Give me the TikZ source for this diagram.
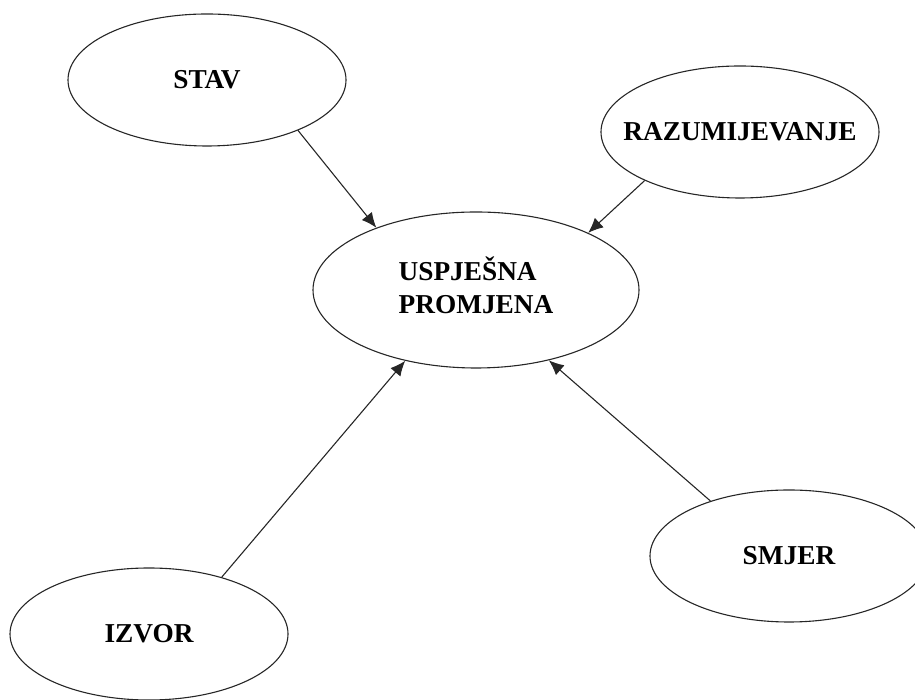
\documentclass[tikz,border=0pt]{standalone}
\usepackage{fontspec}
\setmainfont{Liberation Serif}
\usetikzlibrary{shapes.geometric,arrows.meta}
\newcommand{\zerow}[1]{\makebox[0pt]{#1}}
\begin{document}
\begin{tikzpicture}[x=1pt,y=1pt,
  oval/.style={draw=black!85, line width=1.1pt, ellipse, inner sep=0pt,
    minimum width=278pt, minimum height=132pt,
    font=\fontsize{27.3}{33}\selectfont\bfseries},
  link/.style={draw=black!85, line width=1.1pt,
    -{Latex[length=15pt,width=13pt]}}]
\useasboundingbox (0,0) rectangle (915,700);
\clip (0,0) rectangle (915,700);
\node[oval] (stav) at (207,620) {\zerow{STAV}};
\node[oval] (raz) at (740,568) {\zerow{RAZUMIJEVANJE}};
\node[oval, minimum width=326pt, minimum height=156pt] (usp) at (476,410)
  {\zerow{\begin{tabular}{@{}l@{}}USPJEŠNA\\PROMJENA\end{tabular}}};
\node[oval] (izvor) at (149,66) {\zerow{IZVOR}};
\node[oval] (smjer) at (789,144) {\zerow{SMJER}};
\draw[link] (stav.-29) -- (usp.148.5);
\draw[link] (raz.207.3) -- (usp.27.4);
\draw[link] (izvor.38.3) -- (usp.225.8);
\draw[link] (smjer.145.2) -- (usp.-44.6);
\end{tikzpicture}
\end{document}
